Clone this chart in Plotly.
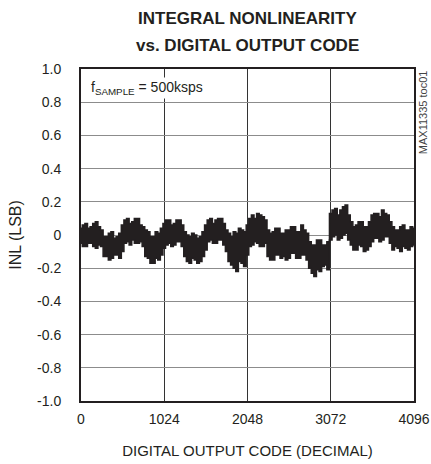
import plotly.graph_objects as go

# sampling grid of output codes (every 32 codes)
codes = list(range(0, 4097, 32))

# upper edge of the INL noise band (LSB)
inl_upper = [
    0.04, 0.06, 0.07, 0.04, 0.05, 0.07, 0.08, 0.05, 0.03, -0.01,
    -0.01, 0.01, 0.02, -0.02, -0.01, 0.01, 0.06, 0.09, 0.10, 0.07,
    0.08, 0.10, 0.10, 0.06, 0.05, 0.03, 0.02, -0.01, -0.01, 0.02,
    0.01, 0.04, 0.07, 0.09, 0.09, 0.06, 0.07, 0.09, 0.09, 0.06,
    0.02, 0.00, -0.01, 0.01, 0.00, -0.02, -0.01, 0.02, 0.06, 0.09,
    0.10, 0.07, 0.09, 0.10, 0.10, 0.07, 0.03, 0.01, -0.01, 0.02,
    0.01, 0.04, 0.03, 0.02, 0.06, 0.10, 0.12, 0.10, 0.13, 0.12,
    0.11, 0.09, 0.03, 0.01, 0.02, 0.04, 0.04, 0.01, 0.01, 0.03,
    0.03, 0.05, 0.05, 0.02, 0.02, 0.06, 0.03, 0.01, -0.04, -0.06,
    -0.06, -0.03, -0.03, -0.06, -0.06, -0.04, 0.13, 0.15, 0.16, 0.12,
    0.15, 0.17, 0.18, 0.12, 0.08, 0.05, 0.06, 0.08, 0.08, 0.05,
    0.05, 0.08, 0.12, 0.13, 0.13, 0.11, 0.15, 0.13, 0.12, 0.08,
    0.05, 0.03, 0.03, 0.05, 0.06, 0.03, 0.03, 0.05, 0.04,
]

# lower edge of the INL noise band (LSB)
inl_lower = [
    -0.05, -0.07, -0.07, -0.05, -0.05, -0.07, -0.08, -0.06, -0.07, -0.13,
    -0.13, -0.15, -0.14, -0.12, -0.12, -0.14, -0.10, -0.05, -0.04, -0.06,
    -0.03, -0.05, -0.05, -0.04, -0.07, -0.13, -0.14, -0.17, -0.17, -0.14,
    -0.15, -0.12, -0.08, -0.06, -0.05, -0.07, -0.06, -0.04, -0.04, -0.07,
    -0.13, -0.16, -0.17, -0.14, -0.15, -0.17, -0.16, -0.13, -0.09, -0.04,
    -0.03, -0.05, -0.05, -0.03, -0.03, -0.06, -0.10, -0.16, -0.18, -0.20,
    -0.22, -0.16, -0.17, -0.19, -0.12, -0.07, -0.06, -0.04, -0.05, -0.07,
    -0.07, -0.05, -0.13, -0.15, -0.15, -0.12, -0.12, -0.14, -0.13, -0.15,
    -0.14, -0.11, -0.11, -0.14, -0.14, -0.12, -0.12, -0.15, -0.20, -0.23,
    -0.25, -0.21, -0.22, -0.19, -0.18, -0.21, -0.03, -0.01, 0.00, -0.03,
    -0.02, 0.00, 0.01, -0.03, -0.06, -0.09, -0.09, -0.06, -0.07, -0.10,
    -0.09, -0.07, -0.04, -0.02, -0.02, -0.04, -0.03, -0.01, -0.01, -0.05,
    -0.09, -0.07, -0.08, -0.10, -0.07, -0.08, -0.09, -0.07, -0.06,
]

x_ticks = [0, 1024, 2048, 3072, 4096]
x_ticktext = ["0", "1024", "2048", "3072", "4096"]
y_ticks = [1.0, 0.8, 0.6, 0.4, 0.2, 0.0, -0.2, -0.4, -0.6, -0.8, -1.0]
y_ticktext = ["1.0", "0.8", "0.6", "0.4", "0.2", "0", "-0.2", "-0.4", "-0.6", "-0.8", "-1.0"]

INK = "#231f20"
FONT = "Liberation Sans, Arial, sans-serif"

fig = go.Figure()
fig.add_trace(go.Scatter(x=codes, y=inl_lower, mode="lines",
                         line=dict(color=INK, width=1.5, shape="hvh"),
                         hoverinfo="skip", showlegend=False))
fig.add_trace(go.Scatter(x=codes, y=inl_upper, mode="lines",
                         line=dict(color=INK, width=1.5, shape="hvh"),
                         fill="tonexty", fillcolor=INK, hoverinfo="skip",
                         showlegend=False))

fig.update_layout(
    width=431, height=464,
    margin=dict(l=81, r=17, t=69, b=63),
    paper_bgcolor="white", plot_bgcolor="white",
    font=dict(family=FONT, color=INK, size=14),
    showlegend=False,
)
fig.update_xaxes(range=[0, 4096], tickvals=x_ticks, ticktext=x_ticktext,
                 showgrid=True, gridcolor="#333333", gridwidth=1,
                 zeroline=False, showline=True, linecolor=INK, linewidth=2,
                 mirror=True, ticks="", ticklabelstandoff=4,
                 ticklabeloverflow="allow", automargin=False,
                 tickfont=dict(size=14),
                 title=dict(text="DIGITAL OUTPUT CODE (DECIMAL)", standoff=20,
                            font=dict(size=15)))
fig.update_yaxes(range=[-1.0, 1.0], tickvals=y_ticks, ticktext=y_ticktext,
                 showgrid=True, gridcolor="#8c8c8c", gridwidth=1,
                 zeroline=False, showline=True, linecolor=INK, linewidth=2,
                 mirror=True, ticks="", ticklabelstandoff=15,
                 ticklabeloverflow="allow", automargin=False,
                 tickfont=dict(size=14),
                 title=dict(text="INL (LSB)", standoff=11, font=dict(size=16)))

# two-line bold title
fig.add_annotation(text="<b>INTEGRAL NONLINEARITY</b>", xref="paper", yref="paper",
                   x=0.5, y=1 + (69 - 18) / 332, xanchor="center", yanchor="middle",
                   showarrow=False, font=dict(size=17, color=INK))
fig.add_annotation(text="<b>vs. DIGITAL OUTPUT CODE</b>", xref="paper", yref="paper",
                   x=0.5, y=1 + (69 - 45) / 332, xanchor="center", yanchor="middle",
                   showarrow=False, font=dict(size=17, color=INK))

fig.add_annotation(text="f<sub>SAMPLE</sub> = 500ksps", xref="paper", yref="paper",
                   x=0.025, y=0.943, xanchor="left", yanchor="middle",
                   showarrow=False, font=dict(size=14, color=INK),
                   bgcolor="white")
fig.add_annotation(text="MAX11335 toc01", xref="paper", yref="paper",
                   x=1.0, xshift=9, y=0.87, xanchor="center", yanchor="middle",
                   textangle=-90, showarrow=False,
                   font=dict(size=11, color="#444444"))

fig.write_html(
    "out.html",
    config={"displayModeBar": False, "staticPlot": True},
    post_script="document.body.style.margin='0';document.body.style.overflow='hidden';",
)
